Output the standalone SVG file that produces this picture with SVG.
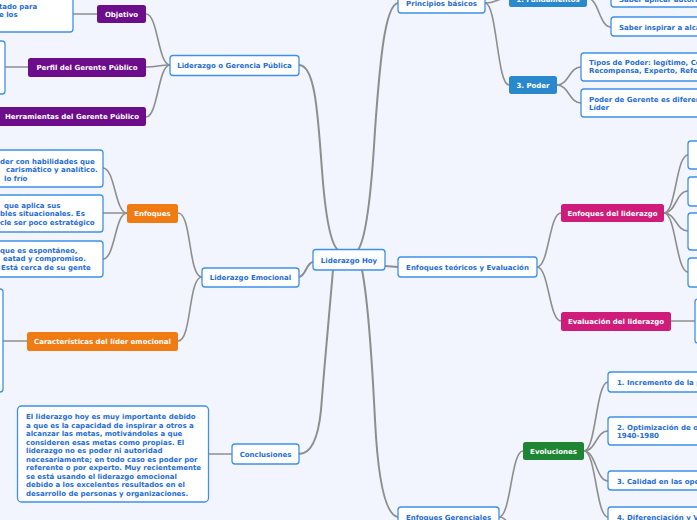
<svg xmlns="http://www.w3.org/2000/svg" width="697" height="520" viewBox="0 0 697 520">
<style>
text{font-family:"DejaVu Sans","Liberation Sans",sans-serif;font-weight:bold;font-size:7px}
.w{fill:#fff;stroke:#3e90ea;stroke-width:1.3}
.wt{fill:#1f6dd6}
.ft{fill:#fff}
.c{text-anchor:middle}
.p{fill:#6c0d8c}.o{fill:#ef7b12}.m{fill:#cf1b79}.b{fill:#2a89cc}.g{fill:#1d8534}
#connectors path{fill:none;stroke:#8e8e8e;stroke-width:1.6;stroke-linecap:round}
#connectors .r{stroke-width:2}
</style>
<rect width="697" height="520" fill="#f2f5fe"/>
<g id="connectors">
<path class="r" d="M299,65 C316,65 318,120 322,170 C326,225 332,245 338,250"/>
<path class="r" d="M398,3 C385,5 380,60 375,130 C371,200 365,240 358,250"/>
<path class="r" d="M313,262 C306,263 306,276 299,277"/>
<path class="r" d="M333,270 C330,300 325,360 321,410 C318,440 310,454 299,454"/>
<path class="r" d="M362,270 C368,300 372,360 375,420 C378,480 385,515 398,517"/>
<path class="r" d="M385,266 L398,267"/>
<path d="M170,65 C158,65 158,14 146,14"/>
<path d="M170,65 C158,65 158,67 146,67"/>
<path d="M170,65 C158,65 158,117 146,117"/>
<path d="M97,14 H73"/>
<path d="M28,67 H5"/>
<path d="M202,277 C188,277 192,213 178,213"/>
<path d="M202,277 C188,277 192,341 178,341"/>
<path d="M127,213 C115,213 115,168 103,168"/>
<path d="M127,213 H103"/>
<path d="M127,213 C115,213 115,259 103,259"/>
<path d="M27,341 H3"/>
<path d="M232,454 H208"/>
<path d="M485,3 C497,3 497,-2 509,-2"/>
<path d="M485,3 C497,3 497,85 509,85"/>
<path d="M587,-2 C599,-2 599,-3 611,-3"/>
<path d="M587,-2 C599,-2 599,27 611,27"/>
<path d="M557,85 C569,85 569,67 581,67"/>
<path d="M557,85 C569,85 569,103 581,103"/>
<path d="M537,267 C549,267 549,213 561,213"/>
<path d="M537,267 C549,267 549,321 561,321"/>
<path d="M664,213 C676,213 676,155 688,155"/>
<path d="M664,213 C676,213 676,191 688,191"/>
<path d="M664,213 C676,213 676,231 688,231"/>
<path d="M664,213 C676,213 676,272 688,272"/>
<path d="M671,321 H695"/>
<path d="M499,517 C511,517 511,451 523,451"/>
<path d="M499,517 C511,517 511,540 523,540"/>
<path d="M584,451 C596,451 596,382 608,382"/>
<path d="M584,451 C596,451 596,431 608,431"/>
<path d="M584,451 C596,451 596,481 608,481"/>
<path d="M584,451 C596,451 596,517 608,517"/>
</g>
<g id="root"><rect class="w" x="313" y="249.5" width="72" height="20.5" rx="3"/><text class="wt c" x="349" y="262.5">Liderazgo Hoy</text></g>
<g id="gerencia"><rect class="w" x="170" y="55.5" width="129" height="20" rx="3"/><text class="wt c" x="234.5" y="68">Liderazgo o Gerencia Pública</text></g>
<g id="objetivo"><rect class="p" x="97" y="5" width="49" height="18" rx="2.5"/><text class="ft c" x="121.5" y="16.5">Objetivo</text></g>
<g id="objetivo-txt"><rect class="w" x="-10" y="-12" width="83" height="44" rx="3"/><text class="wt" x="-1" y="8.5">tado para</text><text class="wt" x="-1" y="17">e los</text></g>
<g id="perfil"><rect class="p" x="28" y="58" width="118" height="19" rx="2.5"/><text class="ft c" x="87" y="70">Perfil  del Gerente Público</text></g>
<g id="perfil-txt"><rect class="w" x="-10" y="41" width="15" height="53" rx="3"/></g>
<g id="herramientas"><rect class="p" x="-2" y="107" width="148" height="19" rx="2.5"/><text class="ft c" x="72" y="119">Herramientas del Gerente Público</text></g>
<g id="emocional"><rect class="w" x="202" y="268" width="97" height="19" rx="3"/><text class="wt c" x="250.5" y="280">Liderazgo Emocional</text></g>
<g id="enfoques"><rect class="o" x="127" y="204" width="51" height="19" rx="2.5"/><text class="ft c" x="152.5" y="216">Enfoques</text></g>
<g id="enf1"><rect class="w" x="-10" y="150" width="113" height="37" rx="3"/><text class="wt" x="0" y="163.5">der con habilidades que</text><text class="wt" x="6" y="172">carismático y analítico.</text><text class="wt" x="4" y="180.5">lo frío</text></g>
<g id="enf2"><rect class="w" x="-10" y="195" width="113" height="37" rx="3"/><text class="wt" x="4" y="207.5">que aplica sus</text><text class="wt" x="0" y="216">bles situacionales. Es</text><text class="wt" x="0" y="224.5">cle ser poco estratégico</text></g>
<g id="enf3"><rect class="w" x="-10" y="241" width="113" height="36" rx="3"/><text class="wt" x="0" y="252.5">que es espontáneo,</text><text class="wt" x="3" y="261">eatad y compromiso.</text><text class="wt" x="1" y="269.5">Está cerca de su gente</text></g>
<g id="caracteristicas"><rect class="o" x="27" y="332" width="151" height="19" rx="2.5"/><text class="ft c" x="102.5" y="344">Características del líder emocional</text></g>
<g id="carac-txt"><rect class="w" x="-10" y="289" width="13" height="103" rx="3"/></g>
<g id="conclusiones"><rect class="w" x="232" y="444" width="67" height="20" rx="3"/><text class="wt c" x="265.5" y="456.5">Conclusiones</text></g>
<g id="concl-txt"><rect class="w" x="17.5" y="406" width="191" height="96" rx="4"/>
<text class="wt" x="26" y="419">El liderazgo hoy es muy importante debido</text>
<text class="wt" x="26" y="427.5">a que es la capacidad de inspirar a otros a</text>
<text class="wt" x="26" y="436">alcanzar las metas, motivándoles a que</text>
<text class="wt" x="26" y="444.5">consideren esas metas como propias. El</text>
<text class="wt" x="26" y="453">liderazgo no es poder ni autoridad</text>
<text class="wt" x="26" y="461.5">necesariamente; en todo caso es poder por</text>
<text class="wt" x="26" y="470">referente o por experto. Muy recientemente</text>
<text class="wt" x="26" y="478.5">se está usando el liderazgo emocional</text>
<text class="wt" x="26" y="487">debido a los excelentes resultados en el</text>
<text class="wt" x="26" y="495.5">desarrollo de personas y organizaciones.</text></g>
<g id="principios"><rect class="w" x="398" y="-7" width="87" height="20" rx="3"/><text class="wt c" x="441.5" y="5.5">Principios básicos</text></g>
<g id="fundamentos"><rect class="b" x="509" y="-12" width="78" height="19" rx="2.5"/><text class="ft c" x="548" y="1.5">1. Fundamentos</text></g>
<g id="saber1"><rect class="w" x="611" y="-12" width="100" height="19" rx="3"/><text class="wt" x="619" y="2">Saber aplicar autori</text></g>
<g id="saber2"><rect class="w" x="611" y="17" width="100" height="19" rx="3"/><text class="wt" x="619" y="29.5">Saber inspirar a alca</text></g>
<g id="poder"><rect class="b" x="509" y="76" width="48" height="18" rx="2.5"/><text class="ft c" x="533" y="87.5">3. Poder</text></g>
<g id="tipos"><rect class="w" x="581" y="53" width="130" height="28" rx="3"/><text class="wt" x="589" y="64.5">Tipos de Poder: legítimo, Co</text><text class="wt" x="589" y="73">Recompensa, Experto, Refe</text></g>
<g id="gerente"><rect class="w" x="581" y="89" width="130" height="28" rx="3"/><text class="wt" x="589" y="101.5">Poder de Gerente es diferen</text><text class="wt" x="589" y="110">Líder</text></g>
<g id="teoricos"><rect class="w" x="398" y="257" width="139" height="20" rx="3"/><text class="wt c" x="467.5" y="269.5">Enfoques teóricos y Evaluación</text></g>
<g id="enf-lid"><rect class="m" x="561" y="204" width="103" height="18" rx="2.5"/><text class="ft c" x="612.5" y="215.5">Enfoques del liderazgo</text></g>
<g id="el1"><rect class="w" x="688" y="141" width="30" height="28" rx="3"/></g>
<g id="el2"><rect class="w" x="688" y="177" width="30" height="29" rx="3"/></g>
<g id="el3"><rect class="w" x="688" y="213" width="30" height="37" rx="3"/></g>
<g id="el4"><rect class="w" x="688" y="258" width="30" height="29" rx="3"/></g>
<g id="eval"><rect class="m" x="561" y="312" width="110" height="19" rx="2.5"/><text class="ft c" x="616" y="324">Evaluación del liderazgo</text></g>
<g id="eval1"><rect class="w" x="695" y="299" width="30" height="44" rx="3"/></g>
<g id="gerenciales"><rect class="w" x="398" y="507" width="101" height="20" rx="3"/><text class="wt c" x="448.5" y="519.5">Enfoques Gerenciales</text></g>
<g id="evoluciones"><rect class="g" x="523" y="442" width="61" height="18" rx="2.5"/><text class="ft c" x="553.5" y="453.5">Evoluciones</text></g>
<g id="ev1"><rect class="w" x="608" y="372" width="110" height="20" rx="3"/><text class="wt" x="617" y="384.5">1. Incremento de la p</text></g>
<g id="ev2"><rect class="w" x="608" y="417" width="110" height="28" rx="3"/><text class="wt" x="617" y="429.5">2. Optimización de o</text><text class="wt" x="617" y="438">1940-1980</text></g>
<g id="ev3"><rect class="w" x="608" y="471" width="110" height="19" rx="3"/><text class="wt" x="617" y="483.5">3. Calidad en las ope</text></g>
<g id="ev4"><rect class="w" x="608" y="507" width="110" height="20" rx="3"/><text class="wt" x="617" y="519.5">4. Diferenciación y V</text></g>
</svg>
